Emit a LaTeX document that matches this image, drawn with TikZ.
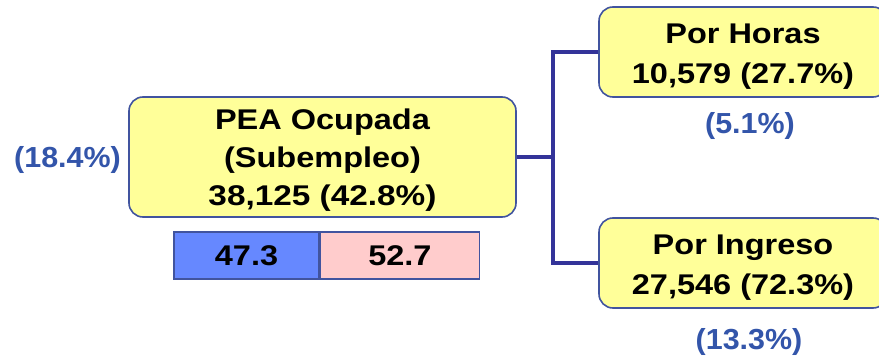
\documentclass[tikz,border=0pt]{standalone}
\usepackage{fontspec}
\setmainfont{Liberation Sans}
\newcommand{\wxtxt}[1]{\scalebox{1.14}[1]{#1}}
\newcommand{\wxdig}[1]{\scalebox{1.17}[1]{#1}}
\newcommand{\wxpct}[1]{\scalebox{1.05}[1]{#1}}
\definecolor{boxfill}{HTML}{FFFF99}
\definecolor{boxline}{HTML}{41549F}
\definecolor{connc}{HTML}{333399}
\definecolor{lblue}{HTML}{3355AA}
\definecolor{barblue}{HTML}{6688FF}
\definecolor{barpink}{HTML}{FFCCCC}
\begin{document}
\begin{tikzpicture}[x=1pt,y=-1pt,
  box/.style={draw=boxline, line width=1.6pt, fill=boxfill, rounded corners=14pt,
    inner sep=0pt, align=center, font=\bfseries\fontsize{28.5}{38}\selectfont},
  sidebox/.style={box, font=\bfseries\fontsize{28.5}{40}\selectfont},
  barcell/.style={draw=boxline, line width=1.4pt, inner sep=0pt,
    minimum height=47pt, font=\bfseries\fontsize{28.5}{34}\selectfont},
  conn/.style={draw=connc, line width=4.8pt, line join=miter},
  pct/.style={text=lblue, font=\bfseries\fontsize{29}{34}\selectfont, anchor=base, inner sep=0pt}]
\useasboundingbox (0,0) rectangle (879,358);
\clip (0,0) rectangle (879,358);
\fill[white] (0,0) rectangle (879,358);
% boxes
\node[box, minimum width=387pt, minimum height=120pt] (main) at (322.5,157)
  {\rule{0pt}{27pt}\wxtxt{PEA Ocupada}\\\wxtxt{(Subempleo)}\\\wxdig{38,125 (42.8\%)}};
\node[sidebox, minimum width=288pt, minimum height=90pt] (top) at (743,52)
  {\rule{0pt}{28pt}\wxtxt{Por Horas}\\\wxtxt{10,579 (27.7\%)}};
\node[sidebox, minimum width=288pt, minimum height=90pt] (bot) at (743,263)
  {\rule{0pt}{28pt}\wxtxt{Por Ingreso}\\\wxtxt{27,546 (72.3\%)}};
% bar
\node[barcell, fill=barblue, minimum width=145pt] (b1) at (246.5,255.5) {\wxtxt{47.3}};
\node[barcell, fill=barpink, minimum width=159pt, anchor=west] (b2) at (b1.east) {\wxtxt{52.7}};
% connectors
\coordinate (j) at (553,157);
\draw[conn] (main.east) -- (j);
\draw[conn] (top.west) -| (j) |- (bot.west);
% percentages
\node[pct] (p1) at (67.5,168) {\wxpct{(18.4\%)}};
\node[pct] (p2) at (750,134) {\wxpct{(5.1\%)}};
\node[pct] (p3) at (749,349) {\wxpct{(13.3\%)}};
\end{tikzpicture}
\end{document}
